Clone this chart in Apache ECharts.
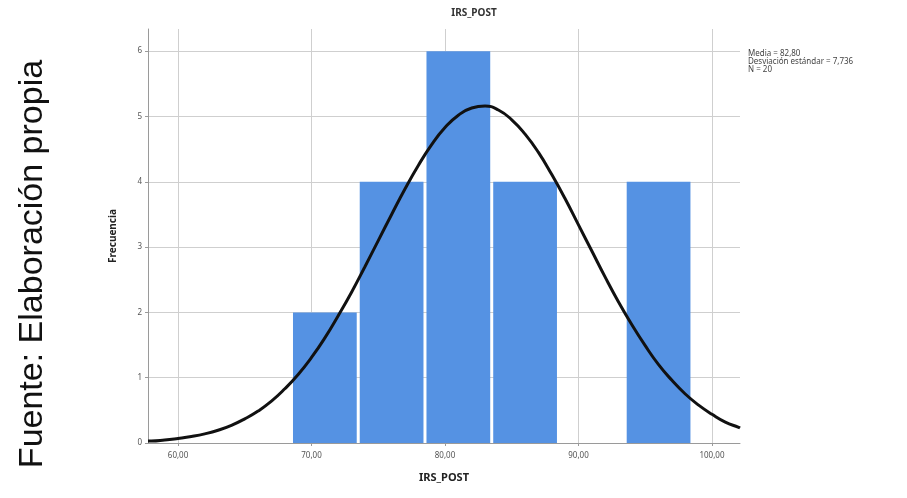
<!DOCTYPE html>
<html>
<head>
<meta charset="utf-8">
<script src="https://cdn.jsdelivr.net/npm/echarts@6/dist/echarts.min.js"></script>
<style>
html,body{margin:0;padding:0;background:#fff;}
#chart{width:907px;height:498px;}
</style>
</head>
<body>
<div id="chart"></div>
<script>
// ---- data ----
const binStarts = [68.5, 73.5, 78.5, 83.5, 88.5, 93.5];
const binEnds   = [73.5, 78.5, 83.5, 88.5, 93.5, 98.5];
const binCounts = [2, 4, 6, 4, 0, 4];
const curveX = [57.75, 58, 59, 60, 61, 62, 63, 64, 65, 66, 67, 68, 69, 70, 71, 72, 73, 74, 75, 76, 77, 78, 79, 80, 81, 82, 83, 84, 85, 86, 87, 88, 89, 90, 91, 92, 93, 94, 95, 96, 97, 98, 99, 100, 101, 102, 102.1];
const curveY = [0.03, 0.03, 0.045, 0.07, 0.10, 0.14, 0.195, 0.27, 0.37, 0.49, 0.64, 0.83, 1.05, 1.31, 1.61, 1.95, 2.31, 2.70, 3.10, 3.50, 3.89, 4.25, 4.57, 4.83, 5.02, 5.13, 5.16, 5.10, 4.95, 4.73, 4.45, 4.11, 3.74, 3.34, 2.94, 2.54, 2.16, 1.81, 1.49, 1.20, 0.96, 0.75, 0.58, 0.44, 0.32, 0.24, 0.23];
const xTicks = [60, 70, 80, 90, 100];
const yTicks = [0, 1, 2, 3, 4, 5, 6];
const statLines = ['Media = 82,80', 'Desviación estándar = 7,736', 'N = 20'];
const titleText = 'IRS_POST';
const xTitle = 'IRS_POST';
const yTitle = 'Frecuencia';
const sourceText = 'Fuente: Elaboración propia';

const barData = binStarts.map((s, i) => [s, binEnds[i], binCounts[i]]);
const curveData = curveX.map((x, i) => [x, curveY[i]]);

const chart = echarts.init(document.getElementById('chart'), null, {renderer: 'canvas'});
const gridColor = '#cfcfcf';
const font = 'Noto Sans';

chart.setOption({
  animation: false,
  backgroundColor: '#ffffff',
  title: {
    text: titleText,
    left: 469, top: 3, textAlign: 'center',
    textStyle: {fontFamily: font, fontSize: 10, fontWeight: 'bold', color: '#333'}
  },
  grid: {left: 148, right: 167, top: 29, bottom: 55, containLabel: false},
  xAxis: {
    type: 'value', min: 57.75, max: 102.1,
    name: xTitle, nameLocation: 'middle', nameGap: 29,
    nameTextStyle: {fontFamily: font, fontSize: 11, fontWeight: 'bold', color: '#222'},
    axisLine: {show: true, lineStyle: {color: '#9a9a9a', width: 1}},
    axisTick: {show: true, length: 3, customValues: xTicks, lineStyle: {color: '#9a9a9a'}},
    axisLabel: {customValues: xTicks, margin: 9, fontFamily: font, fontSize: 8, color: '#555',
      formatter: v => v.toFixed(2).replace('.', ',')},
    splitLine: {show: true, customValues: xTicks, lineStyle: {color: gridColor, width: 1}}
  },
  yAxis: {
    type: 'value', min: 0, max: 6.34,
    name: yTitle, nameLocation: 'middle', nameGap: 30, nameRotate: 90, nameMoveOverlap: false,
    nameTextStyle: {fontFamily: font, fontSize: 10, fontWeight: 'bold', color: '#222'},
    axisLine: {show: true, lineStyle: {color: '#9a9a9a', width: 1}},
    axisTick: {show: true, length: 3, customValues: yTicks, lineStyle: {color: '#9a9a9a'}},
    axisLabel: {customValues: yTicks, margin: 6, fontFamily: font, fontSize: 8, color: '#555'},
    splitLine: {show: true, customValues: yTicks, lineStyle: {color: gridColor, width: 1}}
  },
  graphic: [
    {
      type: 'text', left: 748, top: 50,
      style: {text: statLines.join('\n'), fontFamily: font, fontSize: 8, lineHeight: 8, fill: '#444'}
    },
    {
      type: 'text', x: 33, y: 264, rotation: Math.PI / 2,
      style: {text: sourceText, fontFamily: 'Liberation Sans', fontSize: 34, fill: '#111',
        align: 'center', verticalAlign: 'middle'}
    }
  ],
  series: [
    {
      type: 'custom',
      data: barData,
      encode: {x: [0, 1], y: 2},
      renderItem: function (params, api) {
        const p0 = api.coord([api.value(0), api.value(2)]);
        const p1 = api.coord([api.value(1), 0]);
        return {
          type: 'rect',
          shape: {x: p0[0] + 1.5, y: p0[1], width: p1[0] - p0[0] - 3, height: p1[1] - p0[1]},
          style: {fill: '#5592e3'}
        };
      },
      z: 2
    },
    {
      type: 'line',
      data: curveData,
      smooth: true,
      symbol: 'none',
      lineStyle: {color: '#111', width: 3},
      z: 3
    }
  ]
});
</script>
</body>
</html>
